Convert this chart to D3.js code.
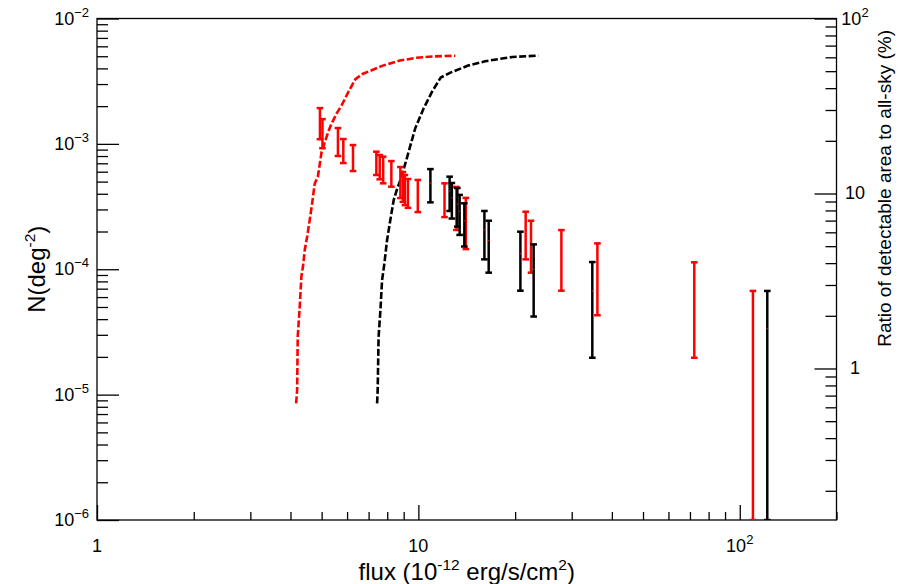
<!DOCTYPE html>
<html>
<head>
<meta charset="utf-8">
<script src="https://cdn.jsdelivr.net/npm/d3@7/dist/d3.min.js"></script>
<style>
  html, body { margin: 0; padding: 0; background: #fff; }
  svg { display: block; font-family: "Liberation Sans", Arial, Helvetica, sans-serif; }
</style>
</head>
<body>
<svg id="chart" width="904" height="584"></svg>
<script>
// logN-logS: source counts per flux bin (two samples) with Poisson errors
const fluxRed = [4.94, 5.03, 5.62, 5.84, 6.26, 7.40, 7.58, 7.77, 8.24, 8.79, 8.95, 9.08, 9.28, 9.96, 12.06, 13.13, 14.05, 21.57, 22.41, 27.86, 36.06, 72.2, 109.9];
const countRed = [1.51e-3, 1.25e-3, 1.07e-3, 8.99e-4, 7.94e-4, 7.16e-4, 6.69e-4, 6.38e-4, 5.93e-4, 5.12e-4, 4.71e-4, 4.45e-4, 4.17e-4, 4.01e-4, 3.73e-4, 3.30e-4, 2.58e-4, 2.04e-4, 1.69e-4, 1.365e-4, 1.02e-4, 6.67e-5, 3.36e-5];
const errRed = [4.2e-4, 3.26e-4, 2.69e-4, 1.95e-4, 1.86e-4, 1.51e-4, 1.47e-4, 1.53e-4, 1.37e-4, 1.42e-4, 1.26e-4, 1.20e-4, 1.08e-4, 1.15e-4, 1.12e-4, 1.24e-4, 1.13e-4, 8.4e-5, 7.5e-5, 6.9e-5, 5.9e-5, 4.70e-5, 3.36e-5];

const fluxBlack = [10.90, 12.51, 12.71, 13.22, 13.44, 13.90, 16.05, 16.55, 20.77, 22.84, 34.77, 121.8];
const countBlack = [4.86e-4, 4.20e-4, 3.71e-4, 3.32e-4, 2.90e-4, 2.44e-4, 2.06e-4, 1.69e-4, 1.335e-4, 1.00e-4, 6.70e-5, 3.36e-5];
const errBlack = [1.44e-4, 1.28e-4, 1.17e-4, 1.13e-4, 1.02e-4, 9.2e-5, 8.6e-5, 7.5e-5, 6.6e-5, 5.8e-5, 4.73e-5, 3.36e-5];

// detectable sky fraction (%) versus flux threshold
const areaFluxRed = [4.165, 4.195, 4.213, 4.274, 4.325, 4.38, 4.43, 4.507, 4.591, 4.671, 4.759, 4.869, 4.993, 5.115, 5.242, 5.37, 5.57, 5.78, 6.07, 6.37, 6.70, 7.19, 7.75, 8.76, 9.89, 11.18, 13.03];
const areaRatioRed = [0.632, 0.753, 1.52, 2.26, 3.35, 3.90, 4.75, 5.66, 7.06, 8.79, 11.4, 12.5, 17.1, 19.6, 22.5, 25.1, 28.7, 32.1, 38.4, 45.0, 48.2, 50.8, 53.8, 57.5, 59.7, 60.7, 61.3];
const areaFluxBlack = [7.44, 7.47, 7.52, 7.62, 7.71, 7.84, 7.99, 8.18, 8.38, 8.57, 8.87, 9.31, 9.77, 10.39, 11.05, 11.74, 12.63, 14.28, 16.14, 19.61, 23.62];
const areaRatioBlack = [0.632, 0.753, 1.52, 2.16, 3.20, 3.99, 5.42, 7.06, 9.18, 10.5, 12.5, 17.1, 23.5, 30.7, 38.4, 46.0, 49.2, 53.8, 57.0, 60.3, 61.3];

// axis ranges and tick labels
const xDomain = [1, 200];
const yDomain = [1e-6, 1e-2];
const rDomain = [0.1362, 100];
const xMajor = [1, 10, 100];
const xLabels = [["1", ""], ["10", ""], ["10", "2"]];
const yMajor = [1e-6, 1e-5, 1e-4, 1e-3, 1e-2];
const yLabels = [["10", "\u22126"], ["10", "\u22125"], ["10", "\u22124"], ["10", "\u22123"], ["10", "\u22122"]];
const rMajor = [1, 10, 100];
const rLabels = [["1", ""], ["10", ""], ["10", "2"]];

const plotLeft = 97, plotRight = 836.5, plotTop = 18.5, plotBottom = 520;
const svg = d3.select("#chart");

const x = d3.scaleLog().domain(xDomain).range([plotLeft, plotRight]);
const y = d3.scaleLog().domain(yDomain).range([plotBottom, plotTop]);
const r = d3.scaleLog().domain(rDomain).range([plotBottom, plotTop]);

function minors(lo, hi) {
  const out = [];
  for (let e = Math.floor(Math.log10(lo)); e <= Math.ceil(Math.log10(hi)); e++) {
    for (let k = 2; k <= 9; k++) {
      const v = k * Math.pow(10, e);
      if (v >= lo * 0.9999 && v <= hi * 1.0001) out.push(v);
    }
  }
  return out;
}

svg.append("defs").append("clipPath").attr("id", "plotclip")
  .append("rect").attr("x", plotLeft).attr("y", plotTop)
  .attr("width", plotRight - plotLeft).attr("height", plotBottom - plotTop);

const axisStyle = g => {
  g.select(".domain").remove();
  g.selectAll("line").attr("stroke", "#000").attr("stroke-width", 1.3);
  g.selectAll("text").remove();
};

// bottom axis ticks (inward)
svg.append("g").attr("transform", `translate(0,${plotBottom})`)
  .call(d3.axisBottom(x).tickValues(xMajor).tickSize(-15).tickFormat(""))
  .call(axisStyle);
svg.append("g").attr("transform", `translate(0,${plotBottom})`)
  .call(d3.axisBottom(x).tickValues(minors(xDomain[0], xDomain[1])).tickSize(-8).tickFormat(""))
  .call(axisStyle);

// left axis ticks
svg.append("g").attr("transform", `translate(${plotLeft},0)`)
  .call(d3.axisLeft(y).tickValues(yMajor).tickSize(-22).tickFormat(""))
  .call(axisStyle);
svg.append("g").attr("transform", `translate(${plotLeft},0)`)
  .call(d3.axisLeft(y).tickValues(minors(yDomain[0], yDomain[1])).tickSize(-11).tickFormat(""))
  .call(axisStyle);

// right axis ticks
svg.append("g").attr("transform", `translate(${plotRight},0)`)
  .call(d3.axisRight(r).tickValues(rMajor).tickSize(-22).tickFormat(""))
  .call(axisStyle);
svg.append("g").attr("transform", `translate(${plotRight},0)`)
  .call(d3.axisRight(r).tickValues(minors(rDomain[0], rDomain[1])).tickSize(-11).tickFormat(""))
  .call(axisStyle);

// frame
svg.append("rect").attr("x", plotLeft).attr("y", plotTop)
  .attr("width", plotRight - plotLeft).attr("height", plotBottom - plotTop)
  .attr("fill", "none").attr("stroke", "#000").attr("stroke-width", 1.3);

function powLabel(sel, base, sup, baseSize, supSize, rise) {
  sel.append("tspan").text(base).attr("font-size", baseSize);
  if (sup) sel.append("tspan").text(sup).attr("font-size", supSize).attr("dy", -rise);
}

// tick labels
yMajor.forEach((v, i) => {
  const t = svg.append("text").attr("x", 89).attr("y", y(v) + 6).attr("text-anchor", "end").attr("fill", "#000");
  powLabel(t, yLabels[i][0], yLabels[i][1], 18, 13, 8);
});
xMajor.forEach((v, i) => {
  const t = svg.append("text").attr("x", x(v)).attr("y", 552).attr("text-anchor", "middle").attr("fill", "#000");
  powLabel(t, xLabels[i][0], xLabels[i][1], 18, 13, 8);
});
rMajor.forEach((v, i) => {
  const t = svg.append("text").attr("x", 855).attr("y", r(v) + 6).attr("text-anchor", "middle").attr("fill", "#000");
  powLabel(t, rLabels[i][0], rLabels[i][1], 18, 13, 8);
});

// axis titles
const xt = svg.append("text").attr("x", (plotLeft + plotRight) / 2).attr("y", 580)
  .attr("text-anchor", "middle").attr("fill", "#000");
xt.append("tspan").text("flux (10").attr("font-size", 24);
xt.append("tspan").text("-12").attr("font-size", 15.5).attr("dy", -10);
xt.append("tspan").text(" erg/s/cm").attr("font-size", 24).attr("dy", 10);
xt.append("tspan").text("2").attr("font-size", 15.5).attr("dy", -10);
xt.append("tspan").text(")").attr("font-size", 24).attr("dy", 10);

const yt = svg.append("text").attr("transform", `translate(45,${(plotTop + plotBottom) / 2}) rotate(-90)`)
  .attr("text-anchor", "middle").attr("fill", "#000");
yt.append("tspan").text("N(deg").attr("font-size", 24);
yt.append("tspan").text("-2").attr("font-size", 15.5).attr("dy", -10);
yt.append("tspan").text(")").attr("font-size", 24).attr("dy", 10);

svg.append("text").attr("transform", `translate(891,30) rotate(-90)`)
  .attr("text-anchor", "end").attr("font-size", 19).attr("fill", "#000")
  .text("Ratio of detectable area to all-sky (%)");

const plot = svg.append("g").attr("clip-path", "url(#plotclip)");

// sky-fraction curves (right axis)
const areaLine = d3.line().x(d => x(d[0])).y(d => r(d[1]));
[[areaFluxRed, areaRatioRed, "#ff0000"], [areaFluxBlack, areaRatioBlack, "#000000"]].forEach(([fx, ry, col]) => {
  plot.append("path").datum(fx.map((f, i) => [f, ry[i]]))
    .attr("d", areaLine).attr("fill", "none").attr("stroke", col)
    .attr("stroke-width", 2.6).attr("stroke-dasharray", "7,2.5");
});

// error bars (left axis)
function drawBars(fx, n, err, col) {
  const data = fx.map((f, i) => ({ f, n: n[i], e: err[i] }));
  const lowY = d => {
    const lo = d.n - d.e;
    return lo > yDomain[0] * 0.5 ? y(lo) : plotBottom + 2;
  };
  const g = plot.append("g");
  g.selectAll("line.bar").data(data).join("line")
    .attr("x1", d => x(d.f)).attr("x2", d => x(d.f))
    .attr("y1", d => y(d.n + d.e)).attr("y2", lowY)
    .attr("stroke", col).attr("stroke-width", 2.5);
  g.selectAll("rect.capT").data(data).join("rect")
    .attr("x", d => x(d.f) - 3.3).attr("y", d => y(d.n + d.e) - 1.2)
    .attr("width", 6.6).attr("height", 2.5).attr("fill", col);
  g.selectAll("rect.capB").data(data).join("rect")
    .attr("x", d => x(d.f) - 3.3).attr("y", d => Math.min(lowY(d), plotBottom) - 1.2)
    .attr("width", 6.6).attr("height", 2.5).attr("fill", col);
  g.selectAll("rect.dot").data(data).join("rect")
    .attr("x", d => x(d.f) - 0.6).attr("y", d => y(d.n) - 0.6)
    .attr("width", 1.2).attr("height", 1.2).attr("fill", "#ff0000");
}
drawBars(fluxRed, countRed, errRed, "#ff0000");
drawBars(fluxBlack, countBlack, errBlack, "#000000");
</script>
</body>
</html>
